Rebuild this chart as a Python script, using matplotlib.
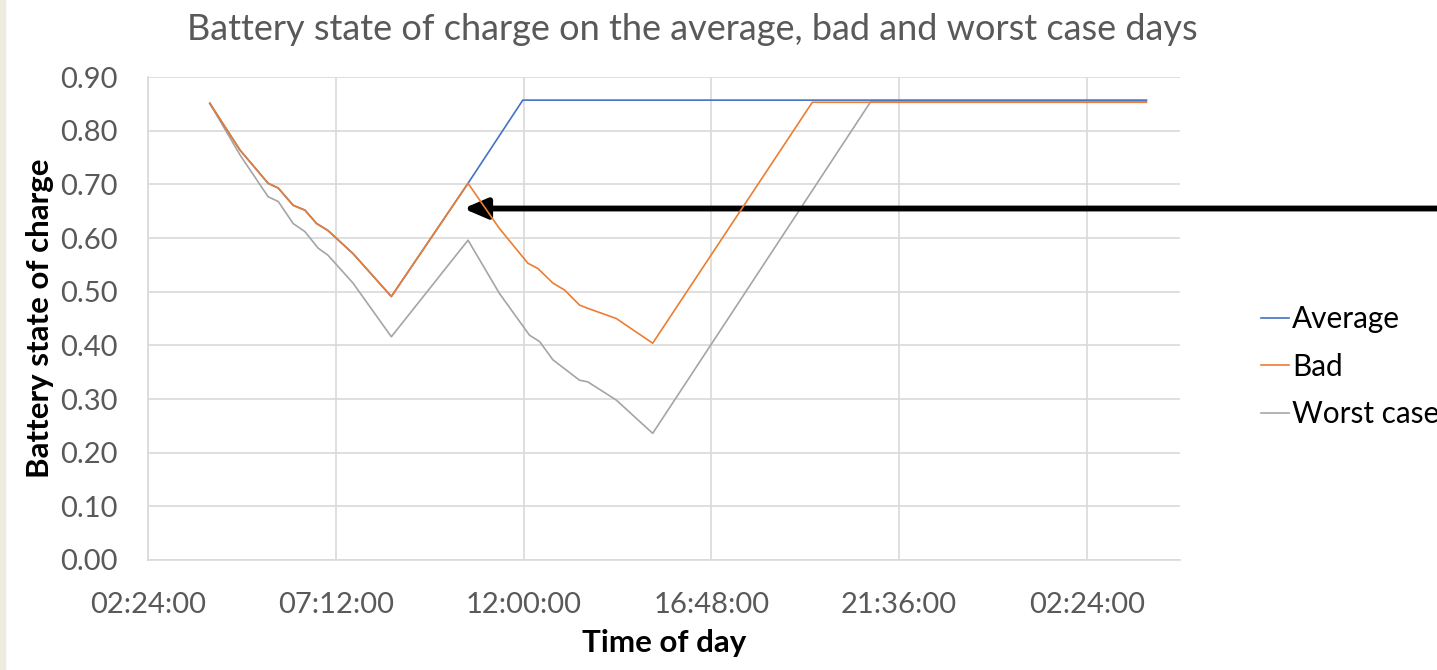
import matplotlib
matplotlib.use('Agg')
import matplotlib.pyplot as plt
from matplotlib.patches import Rectangle
from matplotlib.ticker import FuncFormatter

plt.rcParams['font.family'] = ['Lato', 'DejaVu Sans']

# Horas do dia (decimal, >24 = dia seguinte) e estado de carga
t_avg = [3.98, 4.75, 5.47, 5.73, 6.11, 6.41, 6.71, 7.00, 7.64, 8.62, 10.58, 11.98, 27.92]
soc_avg = [0.851, 0.764, 0.702, 0.693, 0.661, 0.652, 0.627, 0.614, 0.571, 0.491, 0.702, 0.857, 0.857]

t_bad = [3.98, 4.75, 5.47, 5.73, 6.11, 6.41, 6.71, 7.00, 7.64, 8.62, 10.58,
         11.38, 12.11, 12.37, 12.75, 13.05, 13.43, 13.64, 14.37, 15.30, 19.38, 27.92]
soc_bad = [0.851, 0.764, 0.702, 0.693, 0.661, 0.652, 0.627, 0.614, 0.571, 0.491, 0.702,
           0.618, 0.553, 0.543, 0.516, 0.503, 0.475, 0.469, 0.450, 0.404, 0.853, 0.853]

t_worst = [3.98, 4.75, 5.47, 5.73, 6.11, 6.41, 6.75, 7.00, 7.64, 8.62, 10.58,
           11.38, 12.15, 12.41, 12.75, 13.09, 13.43, 13.64, 14.37, 15.30, 20.88, 27.92]
soc_worst = [0.851, 0.755, 0.677, 0.668, 0.627, 0.612, 0.581, 0.568, 0.516, 0.416, 0.596,
             0.497, 0.419, 0.407, 0.373, 0.354, 0.335, 0.332, 0.298, 0.236, 0.855, 0.855]

x_ticks = [2.4, 7.2, 12.0, 16.8, 21.6, 26.4]
y_ticks = [0.0, 0.1, 0.2, 0.3, 0.4, 0.5, 0.6, 0.7, 0.8, 0.9]

# ponto indicado pela seta
seta_t, seta_soc = 10.46, 0.655


def formata_hora(x, pos):
    total = int(round(x * 60)) % (24 * 60)
    return f'{total // 60:02d}:{total % 60:02d}:00'


fig = plt.figure(figsize=(14.37, 6.70), dpi=100)
fig.add_artist(Rectangle((0, 0), 5 / 1437, 1, transform=fig.transFigure,
                         color='#EEEBE1', zorder=0))
ax = fig.add_axes([0.103, 0.1642, 0.7182, 0.7208])

ax.plot(t_avg, soc_avg, color='#4472C4', lw=1.2, label='Average', zorder=3)
ax.plot(t_bad, soc_bad, color='#ED7D31', lw=1.2, label='Bad', zorder=4)
ax.plot(t_worst, soc_worst, color='#A5A5A5', lw=1.2, label='Worst case', zorder=2)

ax.set_xlim(2.4, 28.78)
ax.set_ylim(0, 0.9)
ax.set_xticks(x_ticks)
ax.set_yticks(y_ticks)
ax.xaxis.set_major_formatter(FuncFormatter(formata_hora))
ax.yaxis.set_major_formatter(FuncFormatter(lambda v, p: f'{v:.2f}'))
ax.tick_params(length=0, labelsize=21, labelcolor='#595959')
ax.tick_params(axis='x', pad=23)
ax.tick_params(axis='y', pad=22)
ax.grid(True, color='#D9D9D9', lw=1.2)
ax.set_axisbelow(True)
for lado in ['top', 'right']:
    ax.spines[lado].set_visible(False)
for lado in ['left', 'bottom']:
    ax.spines[lado].set_color('#D9D9D9')
    ax.spines[lado].set_linewidth(1.2)

fig.text(692 / 1437, 1 - 30 / 670,
         'Battery state of charge on the average, bad and worst case days',
         fontsize=26, color='#595959', ha='center', va='center')
ax.set_xlabel('Time of day', fontsize=22.5, fontweight='bold', labelpad=8)
ax.set_ylabel('Battery state of charge', fontsize=22.5, fontweight='bold', labelpad=4)

ax.legend(loc='center left', bbox_to_anchor=(1.078, 0.40), frameon=False,
          fontsize=21.4, handlelength=0.95, handletextpad=0.12, labelspacing=0.65,
          borderaxespad=0, borderpad=0)

ax.annotate('', xy=(seta_t, seta_soc), xytext=(42, seta_soc),
            annotation_clip=False,
            arrowprops=dict(arrowstyle='-|>,head_length=0.7,head_width=0.3',
                            mutation_scale=20, lw=4.2, color='black',
                            shrinkA=0, shrinkB=0))

plt.savefig('out.png', dpi=100)
